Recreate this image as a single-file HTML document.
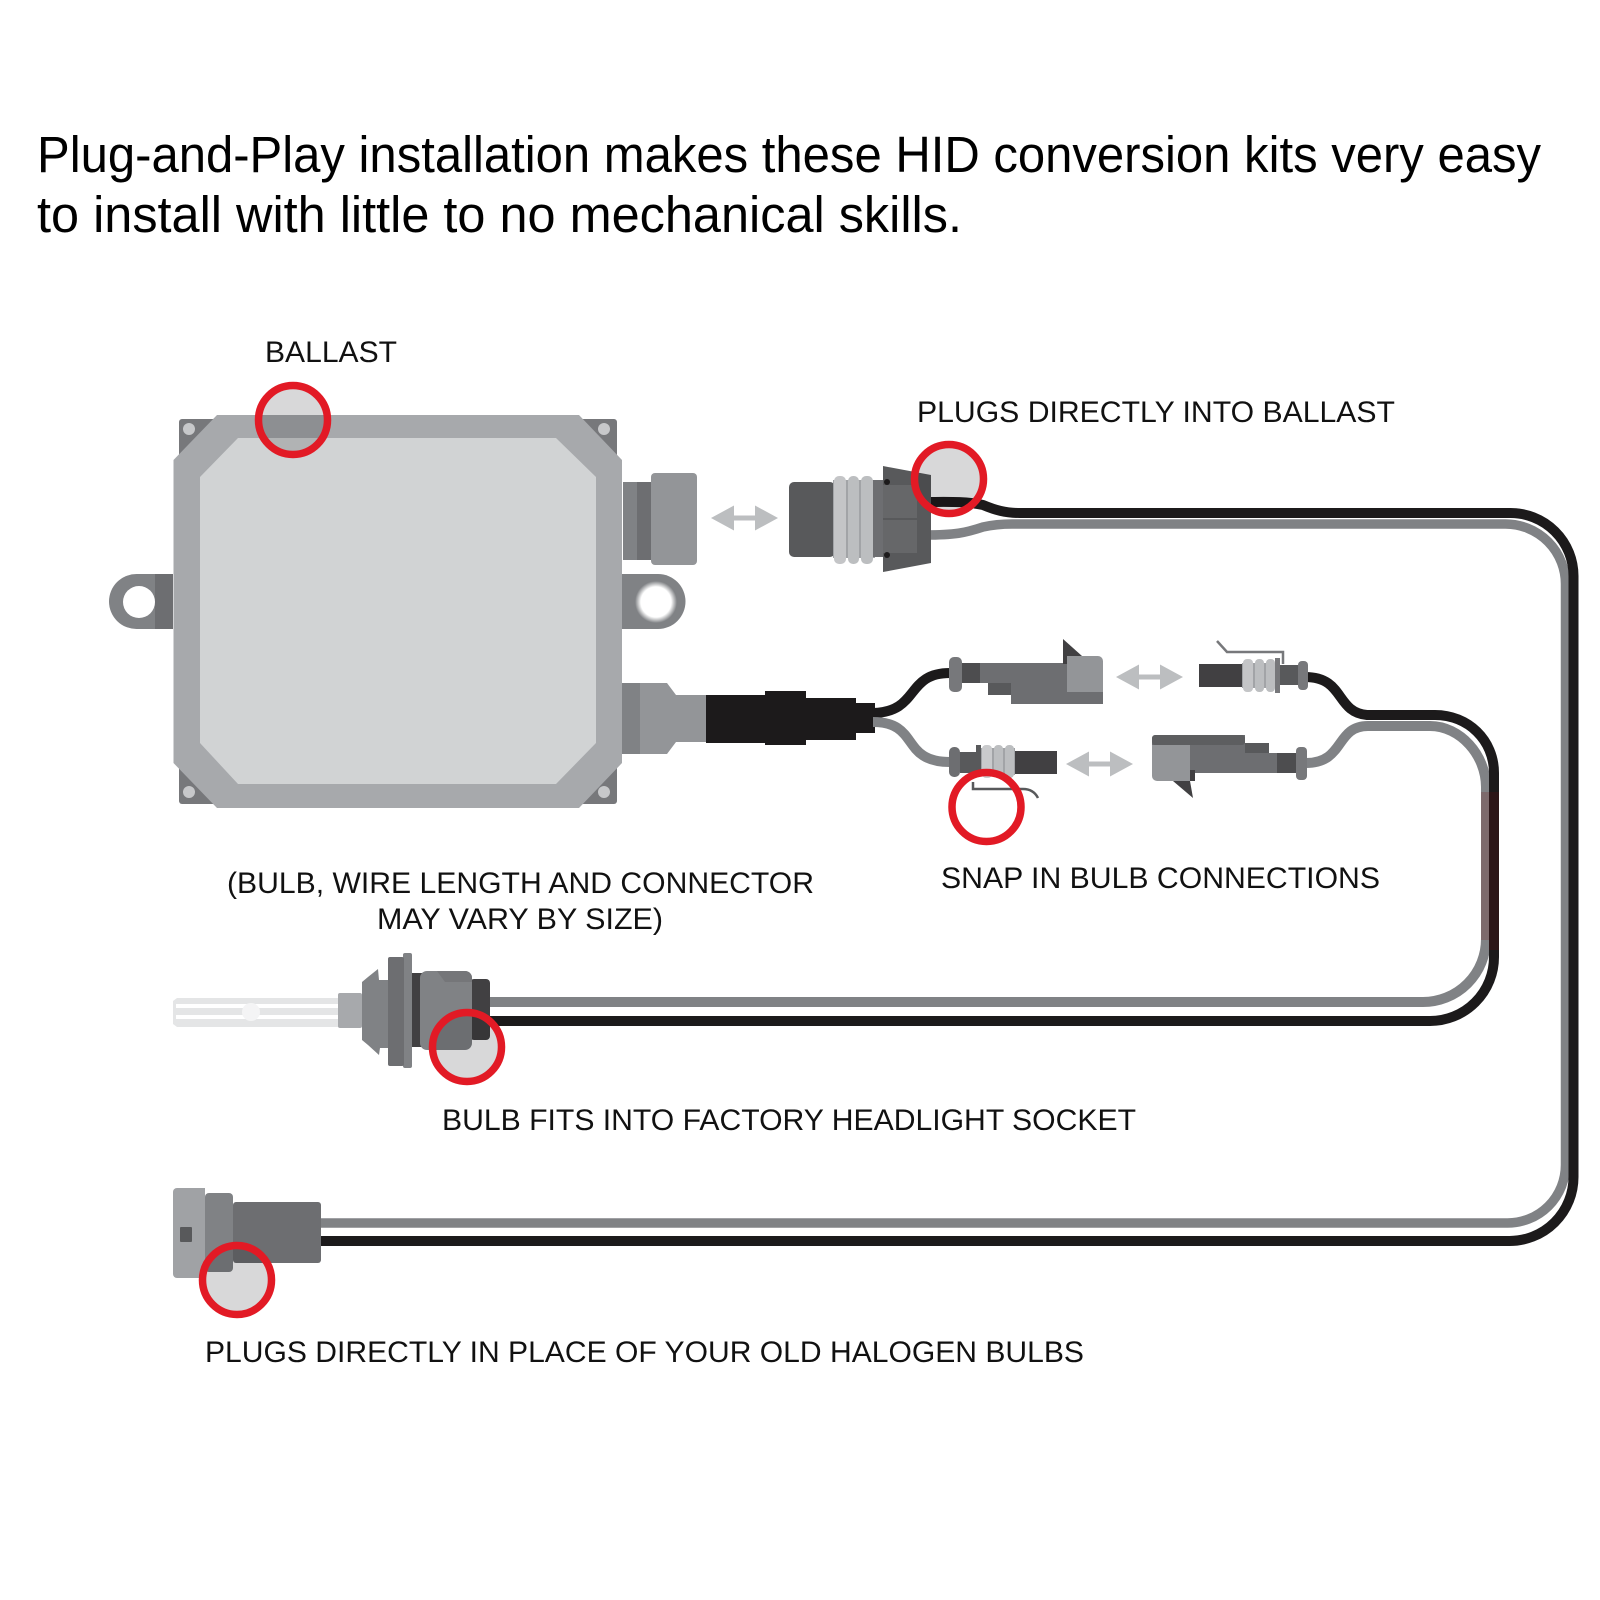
<!DOCTYPE html>
<html><head><meta charset="utf-8"><style>html,body{margin:0;padding:0;background:#fff}svg{display:block}text{font-family:"Liberation Sans",Arial,sans-serif;fill:#111}.t{font-size:51px;fill:#000}.l{font-size:30px}.m{mix-blend-mode:multiply}</style></head><body>
<svg width="1600" height="1600" viewBox="0 0 1600 1600" xmlns="http://www.w3.org/2000/svg">
<defs><radialGradient id="glow"><stop offset="0.72" stop-color="#fff"/><stop offset="1" stop-color="#808285"/></radialGradient></defs>
<rect width="1600" height="1600" fill="#fff"/>
<text class="t" x="37" y="172" textLength="1504" lengthAdjust="spacingAndGlyphs">Plug-and-Play installation makes these HID conversion kits very easy</text>
<text class="t" x="37" y="232" textLength="925" lengthAdjust="spacingAndGlyphs">to install with little to no mechanical skills.</text>
<g class="labels">
<text class="l" x="265" y="362" textLength="132" lengthAdjust="spacingAndGlyphs">BALLAST</text>
<text class="l" x="917" y="422" textLength="478" lengthAdjust="spacingAndGlyphs">PLUGS DIRECTLY INTO BALLAST</text>
<text class="l" x="227" y="893" textLength="587" lengthAdjust="spacingAndGlyphs">(BULB, WIRE LENGTH AND CONNECTOR</text>
<text class="l" x="377" y="929" textLength="286" lengthAdjust="spacingAndGlyphs">MAY VARY BY SIZE)</text>
<text class="l" x="941" y="888" textLength="439" lengthAdjust="spacingAndGlyphs">SNAP IN BULB CONNECTIONS</text>
<text class="l" x="442" y="1130" textLength="694" lengthAdjust="spacingAndGlyphs">BULB FITS INTO FACTORY HEADLIGHT SOCKET</text>
<text class="l" x="205" y="1362" textLength="879" lengthAdjust="spacingAndGlyphs">PLUGS DIRECTLY IN PLACE OF YOUR OLD HALOGEN BULBS</text>
</g>

<!-- Ballast -->
<rect x="179" y="419" width="438" height="385" rx="3" fill="#77787b"/>
<circle cx="189" cy="429" r="6" fill="#c7c8ca"/><circle cx="604" cy="429" r="6" fill="#c7c8ca"/><circle cx="189" cy="792" r="6" fill="#c7c8ca"/><circle cx="604" cy="792" r="6" fill="#c7c8ca"/>
<path d="M173 574H136.500a27.500 27.500 0 0 0 0 55H173Z" fill="#808285"/><rect x="155" y="574" width="18" height="55" fill="#6d6e71"/><circle cx="139" cy="602" r="16" fill="#fff"/>
<path d="M622 574H658a27.500 27.500 0 0 1 0 55H622Z" fill="#808285"/><circle cx="656" cy="602" r="21" fill="url(#glow)"/>
<rect x="623" y="482" width="29" height="78" fill="#6d6e71"/><rect x="623" y="482" width="14" height="78" fill="#808285"/>
<rect x="651" y="473" width="46" height="92" rx="4" fill="#939598"/>
<path d="M622 683H667L676 695H707V742H676L667 754H622Z" fill="#939598"/><rect x="622" y="683" width="18" height="71" fill="#808285"/>
<path d="M217 415H579L622 460V763L579 808H217L173.500 763V460Z" fill="#a7a9ac"/>
<path d="M238 438H556L596 477V743L556 784H238L200 743V477Z" fill="#d1d3d4"/>

<!-- Black cable from ballast -->
<path d="M706 695H765V691H806V698H856V703H875V733H856V740H806V745H765V743H706Z" fill="#1c1a1b"/>

<!-- Wires -->
<g fill="none" stroke-linecap="butt">
<path d="M925 535C955 535 965 533 983 527C992 525 1000 524 1012 524H1505A60 60 0 0 1 1565.500 585V1165A58 58 0 0 1 1507 1223H320" stroke="#808285" stroke-width="9.500"/>
<path d="M925 502C945 502 965 501 983 505C995 510 1005 513 1020 513H1510A63 63 0 0 1 1573.500 576V1177A64 64 0 0 1 1509 1241H320" stroke="#1c1a1b" stroke-width="10"/>
<path d="M490 1002H1423A63 63 0 0 0 1486 939V787C1486 755 1460 726 1430 726H1368C1335 726 1345 763 1306 763" stroke="#808285" stroke-width="10"/>
<path d="M490 1021H1430A64 64 0 0 0 1494 957V773C1494 740 1468 715 1435 715H1367C1335 712 1345 677 1305 677" stroke="#1c1a1b" stroke-width="10"/>
<path d="M1486 792V940" stroke="#7d6a6c" stroke-width="10"/>
<path d="M1494 792V950" stroke="#2c1618" stroke-width="10"/>
<path d="M873 713C920 712 905 673 950 673" stroke="#1c1a1b" stroke-width="10"/>
<path d="M873 722C920 722 900 762 950 762" stroke="#808285" stroke-width="10"/>
</g>

<!-- Arrows -->
<g fill="#bcbec0">
<path d="M711 518L734 505.500V515.500H755V505.500L778 518L755 530.500V520.500H734V530.500Z"/>
<path d="M1116 677L1139 664.500V674.500H1160V664.500L1183 677L1160 689.500V679.500H1139V689.500Z"/>
<path d="M1066 764L1089 751.500V761.500H1110V751.500L1133 764L1110 776.500V766.500H1089V776.500Z"/>
</g>

<!-- Top plug -->
<rect x="789" y="482" width="46" height="75" rx="5" fill="#58595b"/>
<rect x="833" y="480" width="42" height="78" fill="#a2a4a7"/>
<rect x="834" y="476" width="12" height="88" rx="5" fill="#c4c5c7"/><rect x="848" y="476" width="11" height="88" rx="5" fill="#bcbec0"/><rect x="861" y="476" width="12" height="88" rx="5" fill="#bcbec0"/>
<rect x="873" y="480" width="11" height="77" fill="#6d6e71"/>
<path d="M883 466L931 475V563L883 572Z" fill="#58595b"/>
<rect x="883" y="485" width="34" height="33" fill="#666769"/><rect x="883" y="520" width="34" height="33" fill="#666769"/>
<circle cx="887" cy="482" r="3" fill="#1c1a1b"/><circle cx="887" cy="555" r="3" fill="#1c1a1b"/>

<!-- Upper snap connector left -->
<rect x="949" y="657" width="13" height="35" rx="5" fill="#77787b"/>
<rect x="962" y="663" width="18" height="20" fill="#4d4d4f"/>
<path d="M980 663H1068V683H1103V704H1011V683H980Z" fill="#6d6e71"/>
<rect x="988" y="683" width="23" height="12" fill="#58595b"/>
<path d="M1063 639L1082 656L1068 664H1063Z" fill="#414042"/>
<path d="M1067 656H1098A5 5 0 0 1 1103 661V692H1067Z" fill="#939598"/>

<!-- Upper snap connector right -->
<rect x="1199" y="664" width="44" height="23" fill="#414042"/>
<rect x="1242" y="663" width="36" height="25" fill="#a2a4a7"/>
<rect x="1243" y="659" width="10" height="33" rx="4" fill="#c4c5c7"/><rect x="1255" y="659" width="9" height="33" rx="4" fill="#bcbec0"/><rect x="1266" y="659" width="9" height="33" rx="4" fill="#bcbec0"/>
<rect x="1275" y="658" width="5" height="35" fill="#77787b"/>
<rect x="1280" y="665" width="18" height="20" fill="#58595b"/>
<rect x="1298" y="661" width="10" height="29" rx="4" fill="#77787b"/>
<path d="M1217 641L1227 652H1283V664" stroke="#77787b" stroke-width="2.500" fill="none"/>

<!-- Lower snap connector left -->
<rect x="949" y="747" width="11" height="30" rx="5" fill="#6d6e71"/>
<rect x="960" y="752" width="18" height="21" fill="#58595b"/>
<rect x="976" y="745" width="5" height="29" fill="#58595b"/>
<rect x="981" y="748" width="34" height="27" fill="#a2a4a7"/>
<rect x="982" y="745" width="10" height="33" rx="4" fill="#c9cacc"/><rect x="994" y="745" width="9" height="33" rx="4" fill="#bcbec0"/><rect x="1005" y="745" width="9" height="33" rx="4" fill="#bcbec0"/>
<rect x="1015" y="751" width="42" height="23" fill="#414042"/>
<path d="M973 782V789H1023C1030 789 1035 792 1038 798" stroke="#58595b" stroke-width="2.500" fill="none"/>

<!-- Lower snap connector right -->
<path d="M1152 739A4 4 0 0 1 1156 735H1245V753H1277V773H1190V745H1152Z" fill="#6d6e71"/>
<rect x="1152" y="735" width="93" height="10" rx="3" fill="#5d5e60"/>
<rect x="1245" y="743" width="24" height="10" fill="#58595b"/>
<path d="M1173 781H1195V770H1190V781L1193 798Z" fill="#414042"/>
<path d="M1152 745H1190V781H1157A5 5 0 0 1 1152 776Z" fill="#939598"/>
<rect x="1277" y="753" width="20" height="20" fill="#4d4d4f"/>
<rect x="1296" y="747" width="11" height="33" rx="4" fill="#77787b"/>

<!-- Bulb -->
<path d="M173 1001L177 998H339V1027H177L173 1024Z" fill="#e4e5e6"/>
<rect x="176" y="1004" width="162" height="4" fill="#fff"/><rect x="176" y="1015" width="162" height="4" fill="#fff"/>
<ellipse cx="251" cy="1012" rx="9" ry="9" fill="#f4f4f5"/>
<rect x="338" y="993" width="24" height="35" rx="2" fill="#a7a9ac"/>
<path d="M362 982L368 977L378 969L379 980H388V1048H380L379 1055L368 1045L362 1040Z" fill="#808285"/>
<rect x="403" y="953" width="9" height="115" rx="2" fill="#808285"/>
<rect x="388" y="957" width="16" height="109" rx="2" fill="#6d6e71"/>
<rect x="412" y="973" width="10" height="74" fill="#414042"/>
<rect x="470" y="979" width="20" height="61" rx="4" fill="#414042"/>
<rect x="420" y="971" width="52" height="79" rx="7" fill="#808285"/>
<path d="M437 971H465A7 7 0 0 1 472 978V982H445Z" fill="#757679"/>

<!-- Halogen plug -->
<rect x="233" y="1202" width="88" height="61" rx="3" fill="#6d6e71"/>
<rect x="205" y="1193" width="28" height="79" rx="4" fill="#808285"/>
<path d="M177 1188H205V1278H177A4 4 0 0 1 173 1274V1192A4 4 0 0 1 177 1188Z" fill="#a0a2a5"/>
<rect x="180" y="1227" width="12" height="15" rx="1" fill="#58595b"/>

<!-- Circle tints -->
<g class="m" fill="#d8d8d9" style="mix-blend-mode:multiply">
<circle cx="293" cy="420" r="35"/>
<circle cx="949" cy="479" r="35"/>
<circle cx="467" cy="1047" r="35"/>
<circle cx="237" cy="1280" r="35"/>
</g>
<!-- Red circles -->
<g fill="none" stroke="#e21a25" stroke-width="7.500">
<circle cx="293" cy="420" r="34.500"/>
<circle cx="949" cy="479" r="34.500"/>
<circle cx="986.500" cy="807" r="34.500"/>
<circle cx="467" cy="1047" r="34.500"/>
<circle cx="237" cy="1280" r="34.500"/>
</g>
</svg>
</body></html>
